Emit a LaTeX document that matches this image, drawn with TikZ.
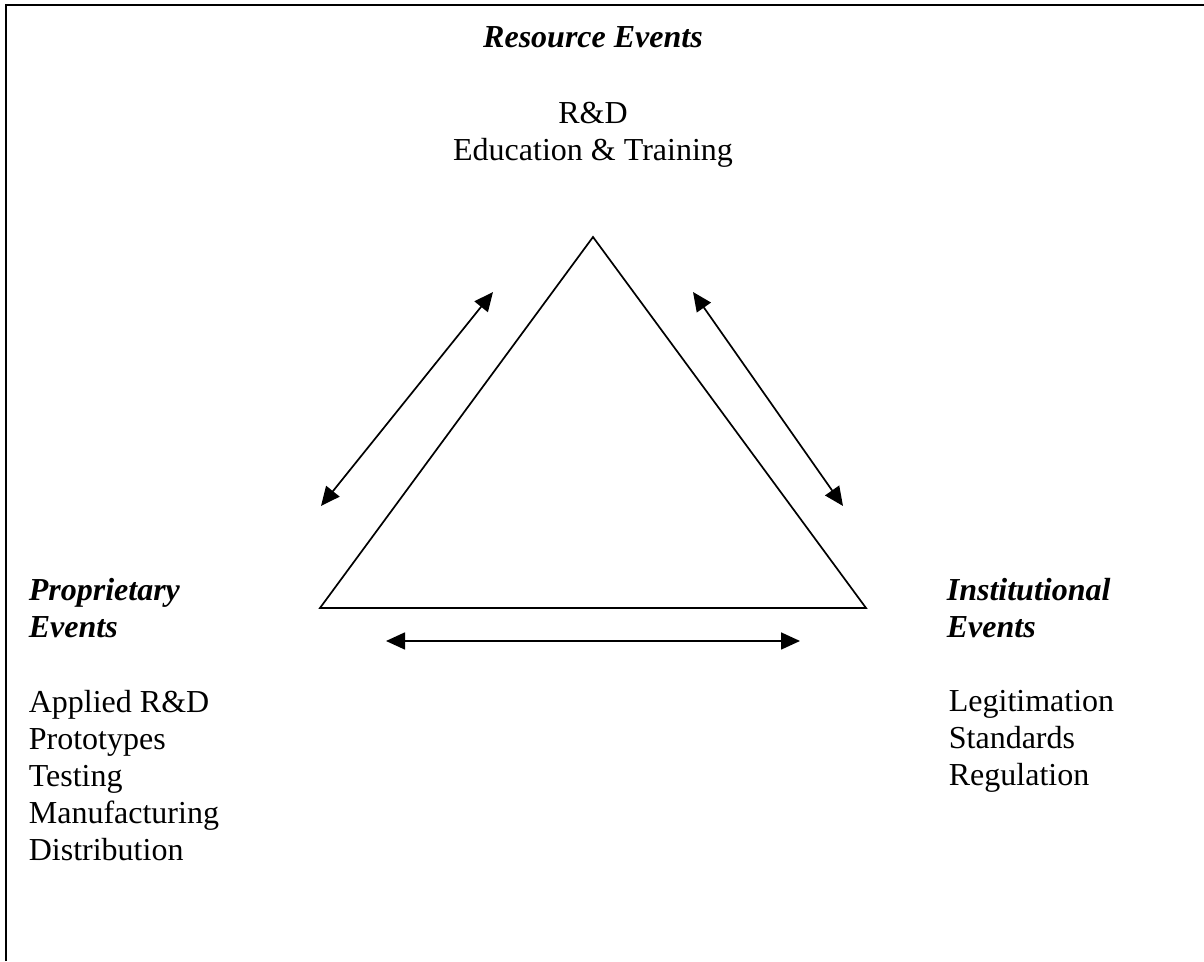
\documentclass[tikz,border=0pt]{standalone}
\usepackage{fontspec}
\setmainfont{Liberation Serif}
\usetikzlibrary{arrows.meta,positioning}

\begin{document}
\begin{tikzpicture}[x=1pt, y=1pt, >={Triangle[length=19pt,width=17pt]}, line width=1.7pt]
    \tikzset{
        heading/.style={font=\fontsize{32}{37}\selectfont\bfseries\itshape, align=left, inner sep=0pt},
        items/.style={font=\fontsize{32}{37}\selectfont, align=left, inner sep=0pt},
        link/.style={draw, <->}
    }
    \useasboundingbox (0,0) rectangle (1204,961);
    % open frame, top and left only
    \draw[line width=2.2pt] (6,0) -- (6,956) -- (1204,956);

    % the three corners of the triangle
    \coordinate (top) at (593,724);
    \coordinate (left) at (320,353);
    \coordinate (right) at (866,353);
    \draw (top) -- (left) -- (right) -- cycle;

    % arrows along the sides
    \coordinate (la) at (321,455);
    \coordinate (lb) at (493,669);
    \coordinate (ra) at (693,669);
    \coordinate (rb) at (843,455);
    \coordinate (ba) at (386,320);
    \coordinate (bb) at (800,320);
    \path [link] (la) -- (lb);
    \path [link] (ra) -- (rb);
    \path [link] (ba) -- (bb);

    % resource events
    \node [heading, anchor=base] (res) at (593,913) {Resource Events};
    \node [items, align=center, anchor=north] (resitems) at (593,860) {R\&D\\Education \& Training};

    % proprietary events
    \node [heading, anchor=north west] (prop) at (28,384) {Proprietary\\Events};
    \node [items, below=51pt of prop.south west, anchor=north west] (propitems) {Applied R\&D\\Prototypes\\Testing\\Manufacturing\\Distribution};

    % institutional events
    \node [heading, anchor=north west] (inst) at (946,384) {Institutional\\Events};
    \node [items, below=51pt of inst.south west, anchor=north west, xshift=2pt] (institems) {Legitimation\\Standards\\Regulation};
\end{tikzpicture}
\end{document}
